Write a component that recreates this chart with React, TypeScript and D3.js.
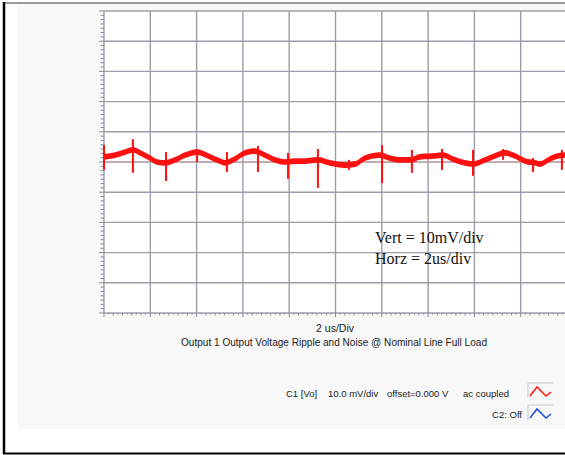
import React from "react";
import * as d3 from "d3";

// Time axis (us) and ripple (mV)
const timeUs = [0, 0.48, 0.91, 1.25, 1.56, 1.99, 2.29, 2.63, 3.07, 3.5, 4.02, 4.58, 5.01, 5.23, 5.66, 6.09, 6.52, 6.95, 7.39, 7.82, 8.25, 8.68, 9.24, 9.76, 10.41, 10.84, 11.27, 11.92, 12.35, 12.79, 13.26, 13.65, 14.3, 14.64, 15.16, 15.59, 15.94, 16.46, 16.89, 17.32, 17.75, 18.19, 18.62, 18.83, 19.27, 19.61, 19.91];
const rippleMv = [1.66, 2.3, 3.3, 4.0, 3.0, 1.3, 0, -0.3, 0.7, 2.3, 3.3, 1.7, 0.3, -0.3, 1.0, 3.0, 3.6, 2.3, 0.7, 0, 0.3, 0.3, 0.7, -0.3, -1.0, -0.7, 1.3, 2.3, 1.3, 0.7, 0.7, 1.7, 2.0, 2.3, 0.7, -0.3, -0.7, 0.7, 2.0, 3.0, 2.0, 0.3, -0.3, -0.7, 1.0, 2.0, 2.3];

// Switching spikes: time, high, low (mV)
const spikeTimeUs = [0.0, 1.25, 2.68, 4.02, 5.31, 6.65, 7.95, 9.24, 10.58, 12.01, 13.3, 14.6, 15.94, 17.24, 18.53, 19.78];
const spikeHighMv = [5.6, 7.6, 3.3, 4.3, 3.3, 5.3, 3.0, 4.3, 0.7, 5.6, 4.0, 4.3, 4.0, 4.3, 1.3, 4.0];
const spikeLowMv = [-2.6, -3.6, -6.3, 0, -3.3, -3.3, -5.6, -8.6, -2.6, -7.0, -3.6, -2.6, -4.6, 0.7, -3.3, -2.6];

const xDivs = d3.range(0, 21, 2);
const yDivs = d3.range(-50, 51, 10);

const vertLabel = "Vert = 10mV/div";
const horzLabel = "Horz = 2us/div";
const xAxisLabel = "2 us/Div";
const title = "Output 1 Output Voltage Ripple and Noise @ Nominal Line Full Load";
const legend1 = ["C1 [Vo]", "10.0 mV/div", "offset=0.000 V", "ac coupled"];
const legend2 = "C2: Off";

export default function App() {
  const W = 565, H = 455;
  const x = d3.scaleLinear().domain([0, 20]).range([104, 567]);
  const y = d3.scaleLinear().domain([-50, 50]).range([313, 11]);
  const pts = timeUs.map((t, i) => ({ t, v: rippleMv[i] }));
  const band = d3
    .area<{ t: number; v: number }>()
    .x((d) => x(d.t))
    .y0((d) => y(d.v - 0.95))
    .y1((d) => y(d.v + 0.95))
    .curve(d3.curveMonotoneX);
  const line = d3
    .line<{ t: number; v: number }>()
    .x((d) => x(d.t))
    .y((d) => y(d.v))
    .curve(d3.curveMonotoneX);

  const minorY: number[] = [];
  for (let v = -50; v <= 50 + 1e-9; v += 10 / 7) minorY.push(v);
  const minorX: number[] = [];
  for (let t = 0; t <= 20 + 1e-9; t += 0.2) minorX.push(t);

  const grid = "#9c9cab";
  const sans = "'Liberation Sans', Arial, sans-serif";

  return (
    <svg width={W} height={H} style={{ position: "absolute", left: 0, top: 0 }}>
      <rect x={0} y={0} width={W} height={H} fill="#ffffff" />
      <rect x={18} y={3} width={W - 18} height={426} fill="#f8f8f8" />
      <line x1={4} x2={W} y1={3} y2={3} stroke="#7a7a7a" strokeWidth={1.5} />
      <line x1={4} x2={4} y1={2} y2={454} stroke="#000" strokeWidth={2.5} />
      <line x1={3} x2={W} y1={453.5} y2={453.5} stroke="#000" strokeWidth={2} />

      {/* plot area */}
      <rect x={x(0)} y={y(50)} width={x(20) - x(0)} height={y(-50) - y(50)} fill="#ffffff" />
      {xDivs.map((t) => (
        <line key={"gx" + t} x1={x(t)} x2={x(t)} y1={y(50)} y2={y(-50)} stroke={grid} strokeWidth={1.4} />
      ))}
      {yDivs.map((v) => (
        <line key={"gy" + v} x1={x(0)} x2={W} y1={y(v)} y2={y(v)} stroke={grid} strokeWidth={1.4} />
      ))}
      {minorY.map((v, i) => (
        <line key={"my" + i} x1={x(0) - (i % 7 === 0 ? 5 : 3.5)} x2={x(0)} y1={y(v)} y2={y(v)} stroke="#8a8a95" strokeWidth={1} />
      ))}
      {minorX.map((t, i) => (
        <line key={"mx" + i} x1={x(t)} x2={x(t)} y1={y(-50)} y2={y(-50) + (i % 10 === 0 ? 4 : i % 2 === 0 ? 2.5 : 1.5)} stroke="#8a8a95" strokeWidth={1} />
      ))}

      {/* zero reference */}
      <line x1={x(0)} x2={W} y1={y(0)} y2={y(0)} stroke="#e89090" strokeWidth={1} strokeDasharray="1.5 1.5" />

      {/* trace */}
      <path d={band(pts) || ""} fill="#ff1010" />
      <path d={line(pts) || ""} fill="none" stroke="#ff1010" strokeWidth={2.6} />
      {spikeTimeUs.map((t, i) => (
        <line key={"sp" + i} x1={x(t)} x2={x(t)} y1={y(spikeHighMv[i])} y2={y(spikeLowMv[i])} stroke="#ff1010" strokeWidth={2} />
      ))}

      {/* annotation */}
      <text x={375} y={243} fontFamily="'Liberation Serif', 'Times New Roman', serif" fontSize={16} fill="#111">{vertLabel}</text>
      <text x={375} y={264} fontFamily="'Liberation Serif', 'Times New Roman', serif" fontSize={16} fill="#111">{horzLabel}</text>

      <text x={335} y={332} textAnchor="middle" fontFamily={sans} fontSize={10.5} fill="#222">{xAxisLabel}</text>
      <text x={181} y={346} fontFamily={sans} fontSize={10} fill="#222" textLength={306} lengthAdjust="spacingAndGlyphs">{title}</text>

      {/* legend */}
      <text x={286} y={397} fontFamily={sans} fontSize={9.5} fill="#222">{legend1[0]}</text>
      <text x={328} y={397} fontFamily={sans} fontSize={9.5} fill="#222">{legend1[1]}</text>
      <text x={387} y={397} fontFamily={sans} fontSize={9.5} fill="#222">{legend1[2]}</text>
      <text x={463} y={397} fontFamily={sans} fontSize={9.5} fill="#222">{legend1[3]}</text>
      <text x={522} y={418} textAnchor="end" fontFamily={sans} fontSize={9.5} fill="#222">{legend2}</text>

      <g transform="translate(528,383)">
        <path d="M0,15 V0 H25" fill="none" stroke="#c8c8c8" strokeWidth={1} />
        <polyline points="2,13 9,4 18,13 23,9" fill="none" stroke="#ff1a1a" strokeWidth={1.6} />
      </g>
      <g transform="translate(528,405)">
        <path d="M0,15 V0 H25" fill="none" stroke="#c8c8c8" strokeWidth={1} />
        <polyline points="2,13 9,4 18,13 23,9" fill="none" stroke="#2050e0" strokeWidth={1.6} />
      </g>
    </svg>
  );
}
